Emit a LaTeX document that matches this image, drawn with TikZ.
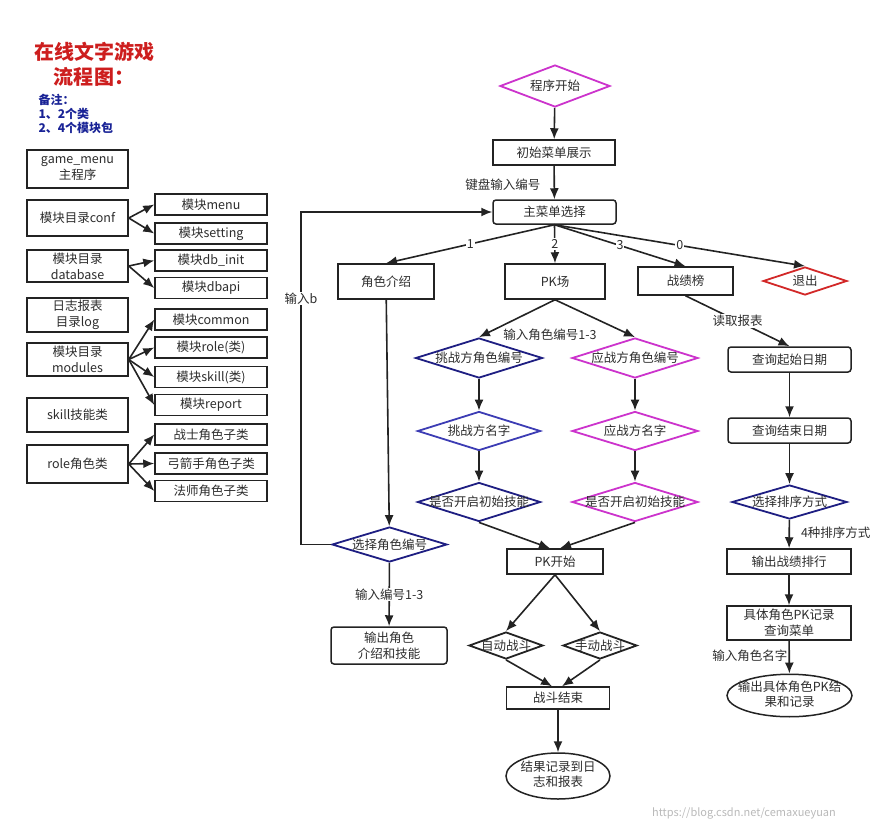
\documentclass[tikz,border=0pt]{standalone}
\usepackage{fontspec}
\setmainfont{Noto Sans CJK SC}
\usetikzlibrary{shapes.geometric,arrows.meta,positioning}

\definecolor{linecol}{RGB}{35,35,35}
\definecolor{txtcol}{RGB}{45,45,45}
\definecolor{magcol}{RGB}{204,51,204}
\definecolor{navycol}{RGB}{30,30,130}
\definecolor{bluecol}{RGB}{60,60,180}
\definecolor{quitcol}{RGB}{210,40,40}
\definecolor{titlecol}{RGB}{205,30,30}
\definecolor{notecol}{RGB}{25,35,150}

% text of a diamond or ellipse is not allowed to widen the shape
\newcommand{\dtxt}[1]{\makebox[0pt]{#1}}
\newcommand{\etxt}[2]{\makebox[0pt]{\begin{tabular}{@{}c@{}}#1\\#2\end{tabular}}}

\begin{document}
\begin{tikzpicture}[x=1pt,y=-1pt,
  box/.style={draw=linecol,line width=1.5pt,fill=white,inner sep=0pt,align=center,
    text=txtcol,font=\fontsize{12.5}{16}\selectfont},
  rbox/.style={box,rounded corners=3pt},
  sbox/.style={box,minimum width=112pt,minimum height=21pt},
  dia/.style={diamond,line width=1.8pt,fill=white,inner sep=0pt,text=txtcol,
    font=\fontsize{12.5}{14}\selectfont},
  ell/.style={ellipse,draw=linecol,line width=1.5pt,fill=white,inner sep=0pt,
    text=txtcol,font=\fontsize{12.5}{15}\selectfont},
  arr/.style={-{Latex[length=11pt,width=9pt]},line width=1.6pt,draw=linecol},
  lbl/.style={text=txtcol,font=\fontsize{12.5}{14}\selectfont,inner sep=1pt},
  wlbl/.style={lbl,fill=white}]
\useasboundingbox (0,0) rectangle (880,830);

% title and notes
\node[text=titlecol,font=\fontsize{20}{25}\selectfont\bfseries,align=center] (title) at (94,64) {在线文字游戏\\流程图：};
\node[text=notecol,font=\fontsize{12}{14}\selectfont\bfseries,align=left,anchor=west] (notes) at (35,114) {备注：\\1、2个类\\2、4个模块包};

% left column: directories and classes
\foreach \n/\y/\h/\t in {gm/169/38/{game\_menu\\主程序}, conf/218/36/{模块目录conf},
    db/266/32/{模块目录\\database}, log/315/34/{日志报表\\目录log},
    mods/359.5/33/{模块目录\\modules}, skl/415/34/{skill技能类}, role/464/38/{role角色类}}
  \node[box,minimum width=101pt,minimum height=\h pt] (\n) at (77.5,\y) {\t};

\foreach \n/\y/\t in {menu/204.5/模块menu, setting/233.5/模块setting, dbinit/260.5/模块db\_init,
    dbapi/288/模块dbapi, common/319.5/模块common, mrole/347.5/模块role(类),
    mskill/377/模块skill(类), report/405/模块report, zs/434.5/战士角色子类,
    gjs/463.5/弓箭手角色子类, fs/491/法师角色子类}
  \node[sbox] (\n) at (211,\y) {\t};

\foreach \a/\b in {conf/menu, conf/setting, db/dbinit, db/dbapi, mods/common, mods/mrole,
    mods/mskill, mods/report, role/zs, role/gjs, role/fs}
  \draw[arr] (\a.east) -- (\b.west);

% main flow
\node[dia,draw=magcol,minimum width=110pt,minimum height=42pt] (start) at (555,86) {\dtxt{程序开始}};
\node[box,minimum width=122pt,minimum height=25pt] (init) at (554,152.5) {初始菜单展示};
\node[rbox,minimum width=123pt,minimum height=24pt] (zcd) at (554.5,212) {主菜单选择};

\node[box,minimum width=96pt,minimum height=35pt] (jsjs) at (386,281.5) {角色介绍};
\node[box,minimum width=100pt,minimum height=35pt] (pk) at (555,281.5) {PK场};
\node[box,minimum width=95pt,minimum height=28pt] (zjb) at (685.5,281) {战绩榜};
\node[dia,draw=quitcol,minimum width=84pt,minimum height=28pt] (quit) at (805,281) {\dtxt{退出}};

% role introduction branch
\node[dia,draw=navycol,minimum width=115pt,minimum height=35pt] (xzbh) at (389.5,544.5) {\dtxt{选择角色编号}};
\node[rbox,minimum width=116pt,minimum height=37pt] (sc) at (389,645.5) {输出角色\\介绍和技能};

% PK branch
\node[lbl] (srbh) at (550,335) {输入角色编号1-3};
\node[dia,draw=navycol,minimum width=127pt,minimum height=40pt] (tzbh) at (479,358) {\dtxt{挑战方角色编号}};
\node[dia,draw=magcol,minimum width=126pt,minimum height=40pt] (yzbh) at (635,358) {\dtxt{应战方角色编号}};
\node[dia,draw=bluecol,minimum width=123pt,minimum height=39pt] (tzmz) at (479,431) {\dtxt{挑战方名字}};
\node[dia,draw=magcol,minimum width=126pt,minimum height=39pt] (yzmz) at (635,431) {\dtxt{应战方名字}};
\node[dia,draw=navycol,minimum width=123pt,minimum height=39pt] (tzjn) at (479,502) {\dtxt{是否开启初始技能}};
\node[dia,draw=magcol,minimum width=126pt,minimum height=39pt] (yzjn) at (635,502) {\dtxt{是否开启初始技能}};
\node[box,minimum width=96pt,minimum height=25pt] (pkks) at (555,561.5) {PK开始};
\node[dia,draw=linecol,minimum width=74pt,minimum height=27pt] (zd) at (506,645.5) {\dtxt{自动战斗}};
\node[dia,draw=linecol,minimum width=74pt,minimum height=27pt] (sd) at (600,645.5) {\dtxt{手动战斗}};
\node[box,minimum width=103pt,minimum height=22pt] (zdjs) at (558,698) {战斗结束};
\node[ell,minimum width=104pt,minimum height=46pt] (jgjl) at (558,776) {\etxt{结果记录到日}{志和报表}};

% ranking branch
\node[rbox,minimum width=123pt,minimum height=25pt] (qsrq) at (789.5,359.5) {查询起始日期};
\node[rbox,minimum width=123pt,minimum height=25pt] (jsrq) at (789.5,430.5) {查询结束日期};
\node[dia,draw=navycol,minimum width=115pt,minimum height=34pt] (pxfs) at (789.5,502) {\dtxt{选择排序方式}};
\node[box,minimum width=124pt,minimum height=25pt] (sczj) at (789,561.5) {输出战绩排行};
\node[box,minimum width=124pt,minimum height=34pt] (jtjl) at (789,623) {具体角色PK记录\\查询菜单};
\node[ell,minimum width=125pt,minimum height=41pt] (scjt) at (789.5,695.5) {\etxt{输出具体角色PK结}{果和记录}};

% connectors
\draw[arr] (start) -- (init);
\draw[arr] (init) -- node[lbl,left=12pt,pos=0.57] {键盘输入编号} (zcd);
\draw[arr] (zcd.south) -- node[wlbl] {1} (jsjs.north);
\draw[arr] (zcd.south) -- node[wlbl] {2} (pk.north);
\draw[arr] (zcd.south) -- node[wlbl] {3} (zjb.north);
\draw[arr] (zcd.south) -- node[wlbl] {0} (quit.north);

\draw[arr] (jsjs) -- (xzbh);
\draw[arr] (xzbh) -- node[wlbl] {输入编号1-3} (sc);
\draw[arr] (xzbh.west) -- ++(-30,0) |- node[wlbl,pos=0.37] {输入b} (zcd.west);

\draw[arr] (pk.south) -- (tzbh.north);
\draw[arr] (pk.south) -- (yzbh.north);
\draw[arr] (tzbh) -- (tzmz);
\draw[arr] (yzbh) -- (yzmz);
\draw[arr] (tzmz) -- (tzjn);
\draw[arr] (yzmz) -- (yzjn);
\draw[arr] (tzjn.south) -- ([xshift=-5pt]pkks.north);
\draw[arr] (yzjn.south) -- ([xshift=5pt]pkks.north);
\draw[arr] (pkks.south) -- (zd.north);
\draw[arr] (pkks.south) -- (sd.north);
\draw[arr] (zd.south) -- ([xshift=-6pt]zdjs.north);
\draw[arr] (sd.south) -- ([xshift=4pt]zdjs.north);
\draw[arr] (zdjs) -- (jgjl);

\draw[arr] (zjb.south) -- node[wlbl] {读取报表} (qsrq.north);
\draw[arr] (qsrq) -- (jsrq);
\draw[arr] (jsrq) -- (pxfs);
\draw[arr] (pxfs) -- node[lbl,right=10pt,pos=0.47] {4种排序方式} (sczj);
\draw[arr] (sczj) -- (jtjl);
\draw[arr] (jtjl) -- node[lbl,left,pos=0.46] {输入角色名字} (scjt);

\node[text=gray!55,font=\fontsize{11}{13}\selectfont] (mark) at (744,813) {https://blog.csdn.net/cemaxueyuan};
\end{tikzpicture}
\end{document}
